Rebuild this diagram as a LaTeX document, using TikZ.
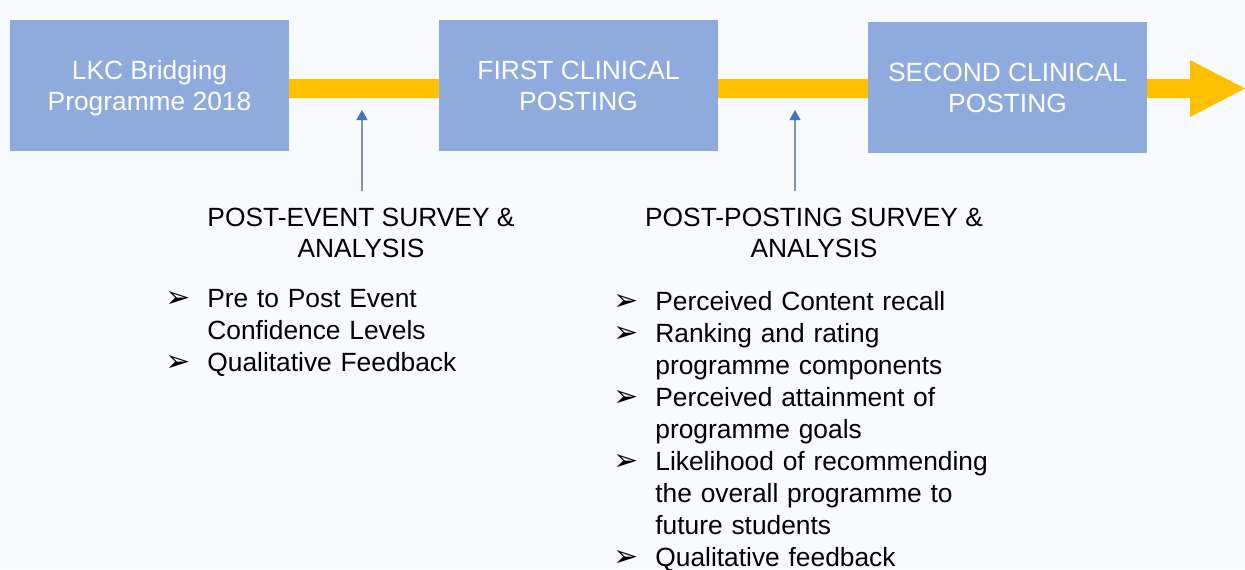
\documentclass[tikz,border=0pt]{standalone}
\usepackage{fontspec}
\setmainfont{Liberation Sans}
\newfontfamily\dingfont{DejaVu Sans}
\usetikzlibrary{arrows.meta,backgrounds}
\definecolor{boxblue}{HTML}{8FAADC}
\definecolor{baryellow}{HTML}{FFC000}
\definecolor{pagebg}{HTML}{F8FBFE}
\definecolor{probeline}{HTML}{8093B3}
\definecolor{probehead}{HTML}{4472C4}
\newcommand{\entry}{\par\hangindent=0.84cm\hangafter=1\noindent\makebox[0.84cm][l]{\dingfont\bfseries\fontsize{17}{17}\selectfont ➢}}

\begin{document}
\begin{tikzpicture}[x=0.02cm,y=-0.02cm,
	stage/.style={fill=boxblue,text=white,minimum width=5.58cm,minimum height=2.62cm,align=center,inner sep=0pt,font=\fontsize{15}{17.6}\selectfont},
	survey/.style={anchor=north,align=center,inner xsep=0pt,inner ysep=0.34cm,font=\fontsize{15}{17.3}\selectfont},
	items/.style={anchor=north west,inner sep=0pt,text width=8cm,font=\fontsize{15}{18.2}\selectfont\raggedright},
	probe/.style={draw=probeline,line width=0.6pt,-{Triangle[width=0.22cm,length=0.2cm,color=probehead]}},
	bar/.style={fill=baryellow}]
		\useasboundingbox (0,0) rectangle (1245,569);
		\node[stage,text depth=0pt] (lkc) at (149.5,85.5) {LKC Bridging\\Programme 2018};
		\node[stage] (first) at (578.5,85.5) {FIRST CLINICAL\\POSTING};
		\node[stage] (second) at (1007.5,87.5) {SECOND CLINICAL\\POSTING};
		\coordinate (tip) at (1245,88.5);
		\begin{scope}[on background layer]
			\fill[pagebg] (0,0) rectangle (1245,569);
			\fill[bar] (149.5,79) -- (1190,79) -- (1190,60) -- (tip) -- (1190,117) -- (1190,98) -- (149.5,98) -- cycle;
		\end{scope}
		\coordinate (mark1) at (362,110);
		\coordinate (mark2) at (795,110);
		\node[survey] (postevent) at (361,191) {POST-EVENT SURVEY \&\\ANALYSIS};
		\node[survey] (postposting) at (814,191) {POST-POSTING SURVEY \&\\ANALYSIS};
		\draw[probe] (mark1 |- postevent.north) -- (mark1);
		\draw[probe] (mark2 |- postposting.north) -- (mark2);
		\node[items] (eventlist) at (165,275) {\entry Pre to Post Event\newline Confidence Levels
			\entry Qualitative Feedback};
		\node[items] (postinglist) at (613,278) {\entry Perceived Content recall
			\entry Ranking and rating\newline programme components
			\entry Perceived attainment of\newline programme goals
			\entry Likelihood of recommending\newline the overall programme to\newline future students
			\entry Qualitative feedback};
\end{tikzpicture}
\end{document}
